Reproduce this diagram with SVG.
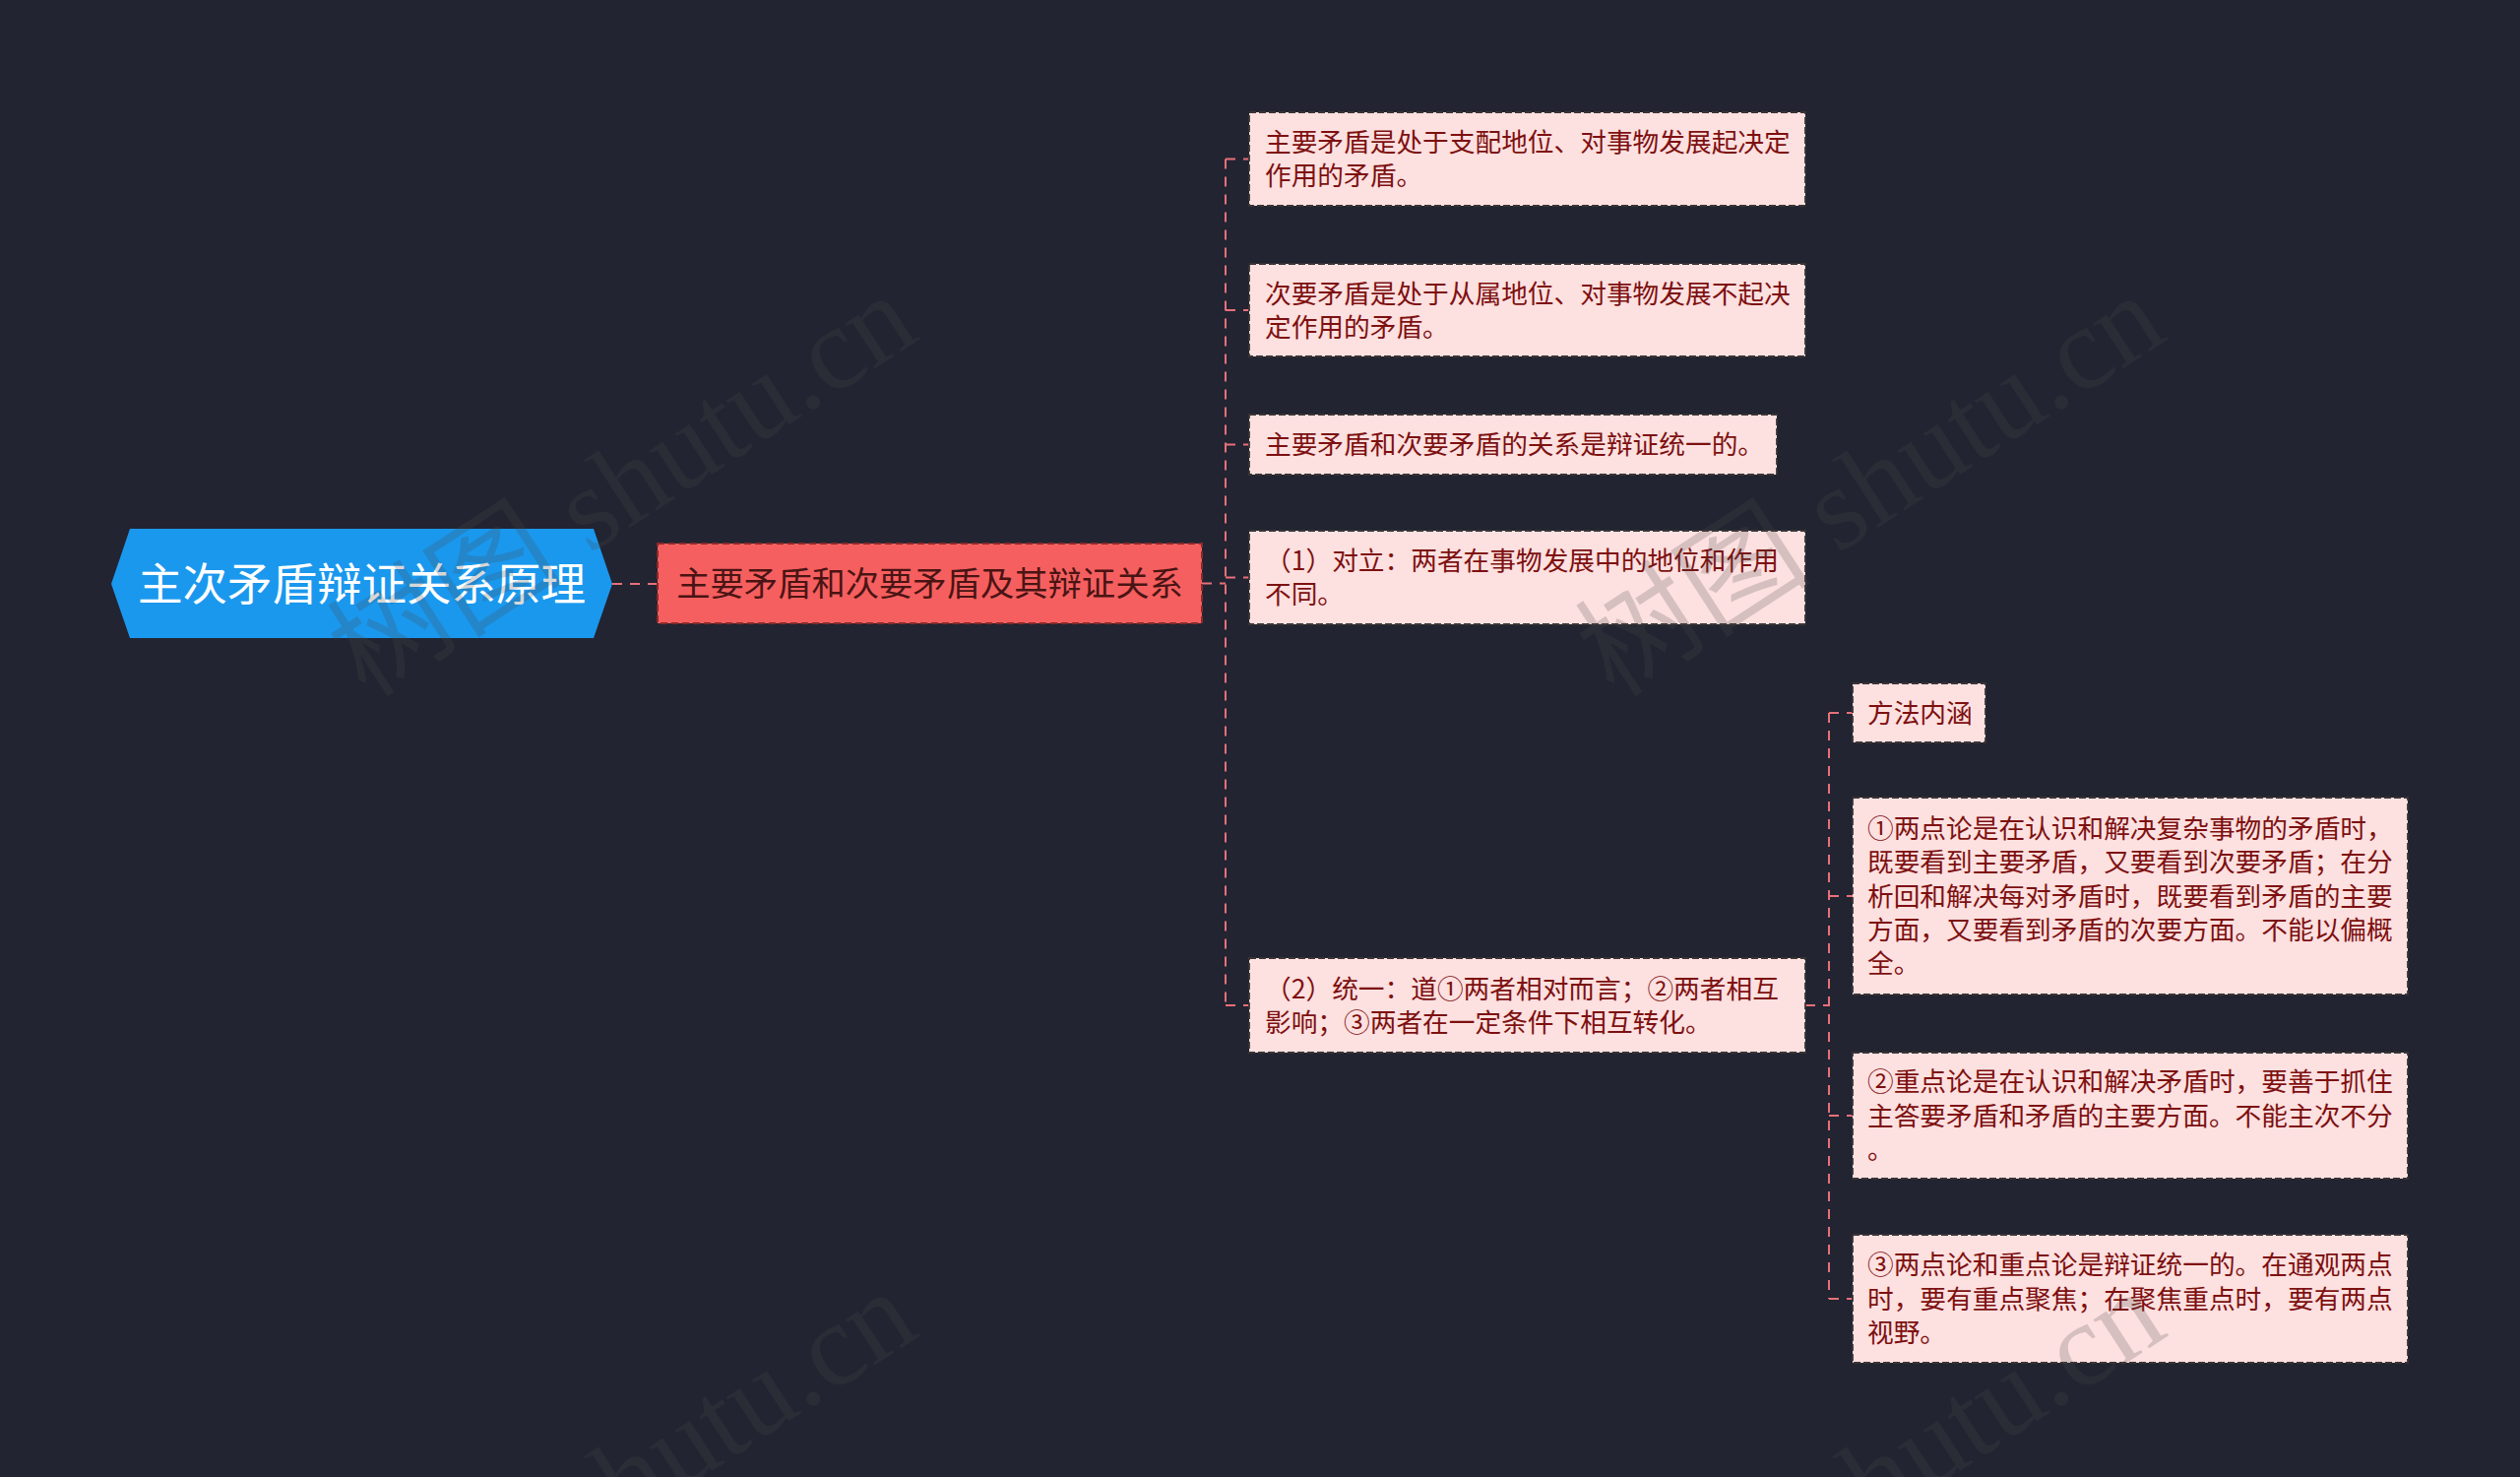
<svg xmlns="http://www.w3.org/2000/svg" width="2560" height="1500" viewBox="0 0 2560 1500">
<defs>
<style>
.bg{fill:#222431}
.root{fill:#1a98ee}
.rootText{font-family:"Noto Sans CJK SC","Noto Sans",sans-serif;font-size:45.5px;fill:#ffffff}
.l1{fill:#f65f5f;stroke:#8a2a2a;stroke-width:2;stroke-dasharray:7 4}
.l1Text{font-family:"Noto Sans CJK SC","Noto Sans",sans-serif;font-size:34.3px;fill:#4a1414}
.box{fill:#fde0e0;stroke:#3a3434;stroke-width:1.8;stroke-dasharray:7 3}
.txt{font-family:"Noto Sans CJK SC","Noto Sans",sans-serif;font-size:26.7px;fill:#7d1010}
.conn{fill:none;stroke:#e8707a;stroke-width:2;stroke-dasharray:10 8}
.wm{font-family:"Liberation Serif","Noto Sans CJK SC",serif;font-size:120px;fill:#474747;fill-opacity:0.22}
</style>
</defs>
<rect class="bg" x="0" y="0" width="2560" height="1500"/>

<g id="connectors">
<path class="conn" d="M622 593 H668"/>
<path class="conn" d="M1221 592.5 H1245"/>
<path class="conn" d="M1245 161.5 V1021"/>
<path class="conn" d="M1245 161.5 H1269"/>
<path class="conn" d="M1245 315 H1269"/>
<path class="conn" d="M1245 451.5 H1269"/>
<path class="conn" d="M1245 586.5 H1269"/>
<path class="conn" d="M1245 1021 H1269"/>
<path class="conn" d="M1834 1021 H1858"/>
<path class="conn" d="M1858 724 V1319"/>
<path class="conn" d="M1858 724 H1882"/>
<path class="conn" d="M1858 910 H1882"/>
<path class="conn" d="M1858 1133 H1882"/>
<path class="conn" d="M1858 1319 H1882"/>
</g>

<g id="root">
<polygon class="root" points="113,593 132,537 603,537 622,593 603,648 132,648"/>
<text class="rootText" x="367.5" y="609.6" text-anchor="middle">主次矛盾辩证关系原理</text>
</g>

<g id="l1">
<rect class="l1" x="668" y="552" width="553" height="81"/>
<text class="l1Text" x="944.5" y="605" text-anchor="middle">主要矛盾和次要矛盾及其辩证关系</text>
</g>

<g id="n2-1">
<rect class="box" x="1269" y="114" width="565" height="95"/>
<text class="txt"><tspan x="1285" y="154">主要矛盾是处于支配地位、对事物发展起决定</tspan><tspan x="1285" y="188.2">作用的矛盾。</tspan></text>
</g>

<g id="n2-2">
<rect class="box" x="1269" y="268" width="565" height="94"/>
<text class="txt"><tspan x="1285" y="307.6">次要矛盾是处于从属地位、对事物发展不起决</tspan><tspan x="1285" y="341.8">定作用的矛盾。</tspan></text>
</g>

<g id="n2-3">
<rect class="box" x="1269" y="421" width="536" height="61"/>
<text class="txt"><tspan x="1285" y="461.2">主要矛盾和次要矛盾的关系是辩证统一的。</tspan></text>
</g>

<g id="n2-4">
<rect class="box" x="1269" y="539" width="565" height="95"/>
<text class="txt"><tspan x="1285" y="579">（1）对立：两者在事物发展中的地位和作用</tspan><tspan x="1285" y="613.3">不同。</tspan></text>
</g>

<g id="n2-5">
<rect class="box" x="1269" y="973" width="565" height="96"/>
<text class="txt"><tspan x="1285" y="1013.6">（2）统一：道①两者相对而言；②两者相互</tspan><tspan x="1285" y="1047.8">影响；③两者在一定条件下相互转化。</tspan></text>
</g>

<g id="n3-1">
<rect class="box" x="1882" y="694" width="135" height="60"/>
<text class="txt"><tspan x="1897" y="733.7">方法内涵</tspan></text>
</g>

<g id="n3-2">
<rect class="box" x="1882" y="810" width="564" height="200"/>
<text class="txt"><tspan x="1897" y="851">①两点论是在认识和解决复杂事物的矛盾时，</tspan><tspan x="1897" y="885.4">既要看到主要矛盾，又要看到次要矛盾；在分</tspan><tspan x="1897" y="919.7">析回和解决每对矛盾时，既要看到矛盾的主要</tspan><tspan x="1897" y="954">方面，又要看到矛盾的次要方面。不能以偏概</tspan><tspan x="1897" y="988.3">全。</tspan></text>
</g>

<g id="n3-3">
<rect class="box" x="1882" y="1069" width="564" height="128"/>
<text class="txt"><tspan x="1897" y="1108.4">②重点论是在认识和解决矛盾时，要善于抓住</tspan><tspan x="1897" y="1142.7">主答要矛盾和矛盾的主要方面。不能主次不分</tspan><tspan x="1897" y="1177">。</tspan></text>
</g>

<g id="n3-4">
<rect class="box" x="1882" y="1254" width="564" height="130"/>
<text class="txt"><tspan x="1897" y="1294.4">③两点论和重点论是辩证统一的。在通观两点</tspan><tspan x="1897" y="1328.7">时，要有重点聚焦；在聚焦重点时，要有两点</tspan><tspan x="1897" y="1363">视野。</tspan></text>
</g>

<g id="watermark">
<text class="wm" transform="translate(372,710) rotate(-33)">树图 shutu.cn</text>
<text class="wm" transform="translate(1640,710) rotate(-33)">树图 shutu.cn</text>
<text class="wm" transform="translate(372,1722) rotate(-33)">树图 shutu.cn</text>
<text class="wm" transform="translate(1640,1722) rotate(-33)">树图 shutu.cn</text>
</g>
</svg>
